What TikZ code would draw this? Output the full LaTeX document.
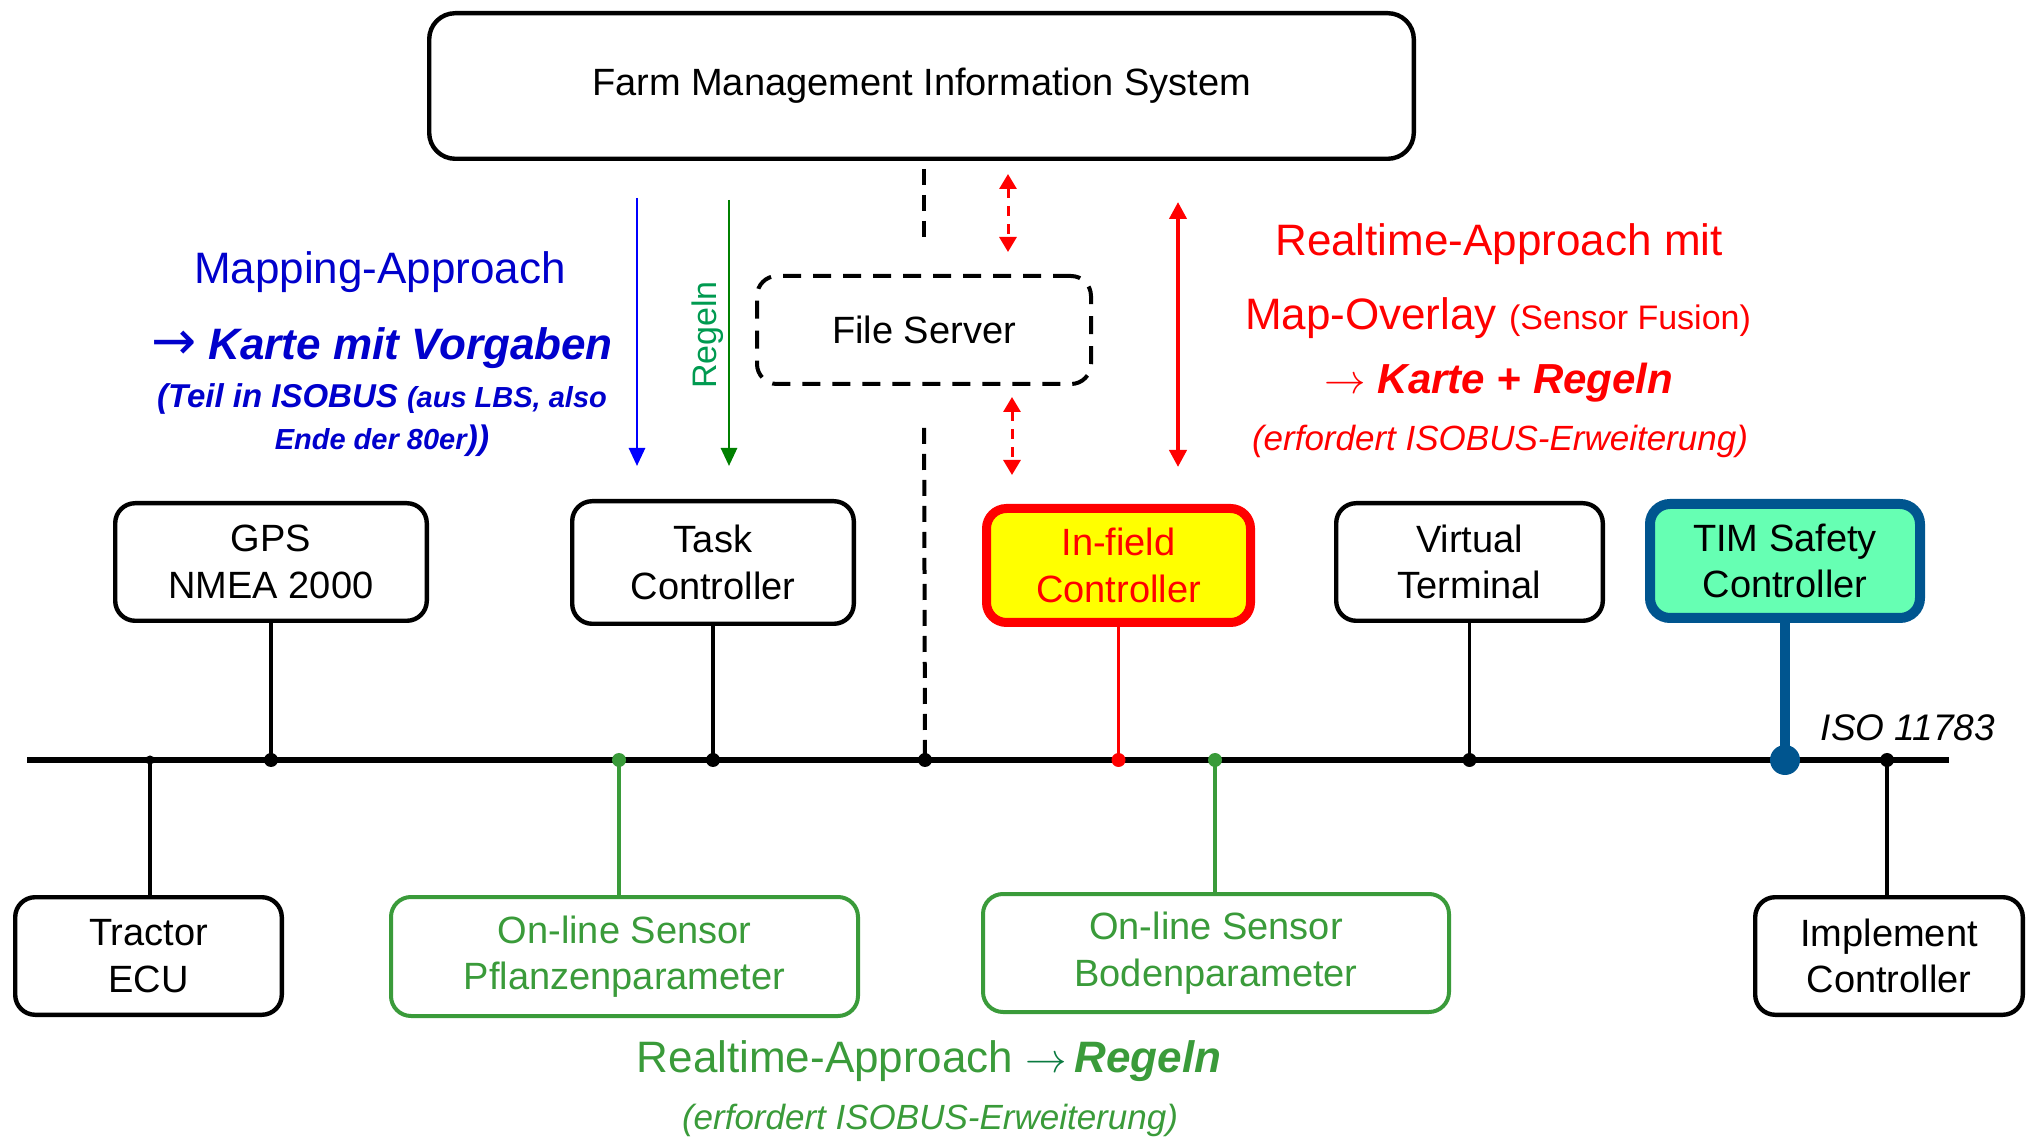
\documentclass[tikz,border=0pt]{standalone}
\usepackage{fontspec}
\setmainfont{Liberation Sans}
\newfontfamily\djvfont{DejaVu Sans}
\usetikzlibrary{arrows.meta}
\definecolor{tblue}{HTML}{0000CC}
\definecolor{ablue}{HTML}{0000FF}
\definecolor{agreen}{HTML}{008000}
\definecolor{rgreen}{HTML}{009A50}
\definecolor{lgreen}{HTML}{3A9B3A}
\definecolor{dgreen}{HTML}{0A7A40}
\definecolor{tred}{HTML}{FF0000}
\definecolor{tyellow}{HTML}{FFFF00}
\definecolor{timfill}{HTML}{66FFB3}
\definecolor{timblue}{HTML}{00558F}
\begin{document}
\begin{tikzpicture}[x=0.5pt,y=-0.5pt,
  boxtext/.style={font=\fontsize{19}{23.3}\selectfont, align=center},
  blackbox/.style={boxtext, draw=black, line width=2.2pt, rounded corners=10pt, fill=white, inner sep=0pt},
  greenbox/.style={boxtext, draw=lgreen, text=lgreen, line width=2pt, rounded corners=10pt, fill=white, inner sep=0pt},
  drop/.style={line width=1.8pt},
  dot/.style={circle, fill, inner sep=0pt, minimum size=7pt},
  big/.style={font=\fontsize{22}{26}\selectfont},
  mid/.style={font=\fontsize{17.5}{21}\selectfont\itshape},
  thintip/.style={-{Triangle[length=9pt,width=8pt]}},
]
\useasboundingbox (0,0) rectangle (2031,1138);

% top boxes
\node[blackbox, rounded corners=13pt, minimum width=492.3pt, minimum height=72.8pt] (fmis) at (921.5,86) {Farm Management Information System};
\node[boxtext, draw=black, line width=2pt, dash pattern=on 9pt off 6pt, rounded corners=10pt, inner sep=0pt, minimum width=167pt, minimum height=54pt] (fs) at (924,330) {File Server};

% controllers above bus
\node[blackbox, minimum width=155.8pt, minimum height=58.8pt] (gps) at (271,562) {GPS\\NMEA 2000};
\node[blackbox, minimum width=140.8pt, minimum height=61.3pt] (task) at (713,562.5) {Task\\Controller};
\node[boxtext, draw=tred, fill=tyellow, text=tred, line width=4.5pt, rounded corners=10pt, inner sep=0pt, minimum width=132pt, minimum height=57pt] (infield) at (1118.5,565.5) {In-field\\Controller};
\node[blackbox, minimum width=133.3pt, minimum height=58.8pt] (vt) at (1469.5,562) {Virtual\\Terminal};
\node[boxtext, draw=timblue, fill=timfill, line width=5pt, rounded corners=10pt, inner sep=0pt, minimum width=135pt, minimum height=57pt] (tim) at (1785,561) {TIM Safety\\Controller};

% boxes below bus
\node[blackbox, minimum width=133.3pt, minimum height=58.8pt] (tractor) at (148.5,956) {Tractor\\ECU};
\node[greenbox, minimum width=233.5pt, minimum height=59.5pt] (pfl) at (624.5,956.5) {On-line Sensor\\Pflanzenparameter};
\node[greenbox, minimum width=233pt, minimum height=59pt] (boden) at (1216,953) {On-line Sensor\\Bodenparameter};
\node[blackbox, minimum width=133.8pt, minimum height=58.8pt] (impl) at (1889,956) {Implement\\Controller};

% bus
\coordinate (busL) at (27,760);
\coordinate (busR) at (1949,760);
\draw[line width=3pt] (busL) -- (busR);
\node[font=\fontsize{18.5}{22}\selectfont\itshape, anchor=south east] (iso) at (2002,748) {ISO 11783};

% drops
\draw[drop] (gps.south) -- (gps.south |- busL) node[dot] {};
\draw[drop] (task.south) -- (task.south |- busL) node[dot] {};
\draw[drop, tred] (infield.south) -- (infield.south |- busL) node[dot] {};
\draw[drop] (vt.south) -- (vt.south |- busL) node[dot] {};
\draw[line width=5pt, timblue] (tim.south) -- (tim.south |- busL) node[dot, minimum size=15pt] {};
\coordinate (tapT) at (150,760);
\draw[drop] (tapT) node[dot, minimum size=4.5pt] {} -- (tapT |- tractor.north);
\coordinate (tapP) at (619,760);
\draw[drop, lgreen] (tapP |- pfl.north) -- (tapP) node[dot] {};
\coordinate (tapB) at (1215,760);
\draw[drop, lgreen] (tapB |- boden.north) -- (tapB) node[dot] {};
\coordinate (tapI) at (1887,760);
\draw[drop] (tapI |- impl.north) -- (tapI) node[dot] {};

% dashed FMIS - File Server - bus
\draw[line width=2pt, dash pattern=on 8pt off 5pt, shorten <=4pt, shorten >=15pt] (fmis.south -| fs) -- (fs.north);
\coordinate (tapF) at (925,760);
\draw[line width=2pt, dash pattern=on 8pt off 5pt, shorten <=21pt] (fs.south) -- (tapF) node[dot] {};

% arrows
\coordinate (b1) at (637,198); \coordinate (b2) at (637,466);
\draw[ablue, line width=1.4pt, thintip] (b1) -- (b2);
\coordinate (g1) at (729,200); \coordinate (g2) at (729,466);
\draw[agreen, line width=1.4pt, thintip] (g1) -- (g2);
\node[rgreen, rotate=90, font=\fontsize{17}{20}\selectfont] (regeln) at (708,335) {Regeln};

\coordinate (r1) at (1178,202); \coordinate (r2) at (1178,467);
\draw[tred, line width=2pt, {Triangle[length=8.5pt,width=8.5pt]}-{Triangle[length=8.5pt,width=8.5pt]}] (r1) -- (r2);
\coordinate (rd1) at (1008,174); \coordinate (rd2) at (1008,252);
\draw[tred, line width=1.5pt, dash pattern=on 5pt off 4pt, {Triangle[length=7.5pt,width=8.5pt]}-{Triangle[length=7.5pt,width=8.5pt]}] (rd1) -- (rd2);
\coordinate (rd3) at (1012,397); \coordinate (rd4) at (1012,475);
\draw[tred, line width=1.5pt, dash pattern=on 5pt off 4pt, {Triangle[length=7.5pt,width=8.5pt]}-{Triangle[length=7.5pt,width=8.5pt]}] (rd3) -- (rd4);

% blue texts
\node[tblue, big] (map1) at (380,272) {Mapping-Approach};
\node[tblue, font=\fontsize{22}{26}\selectfont\bfseries\itshape] (map2) at (382,348) {{\djvfont\upshape\mdseries\fontsize{27}{26}\selectfont →}\ Karte mit Vorgaben};
\node[tblue, font=\bfseries\itshape] (map3) at (382,399) {{\fontsize{16.5}{20}\selectfont (Teil in ISOBUS }{\fontsize{14.5}{18}\selectfont (aus LBS, also}};
\node[tblue, font=\bfseries\itshape] (map4) at (382,441) {{\fontsize{14.5}{18}\selectfont Ende der 80er}{\fontsize{17}{20}\selectfont ))}};

% red texts
\node[tred, big] (rt1) at (1499,244) {Realtime-Approach mit};
\node[tred] (rt2) at (1498,318) {{\fontsize{22}{26}\selectfont Map-Overlay }{\fontsize{17}{20}\selectfont (Sensor Fusion)}};
\node[tred, font=\fontsize{21}{25}\selectfont] (rt3) at (1499,383) {$\rightarrow$ \textbf{\textit{Karte + Regeln}}};
\node[tred, mid] (rt4) at (1500,441) {(erfordert ISOBUS-Erweiterung)};

% green bottom texts
\node[lgreen, big] (gt1) at (929,1061) {Realtime-Approach {\color{dgreen}$\rightarrow$}\,\textbf{\textit{Regeln}}};
\node[lgreen, mid] (gt2) at (930,1120) {(erfordert ISOBUS-Erweiterung)};
\end{tikzpicture}
\end{document}
